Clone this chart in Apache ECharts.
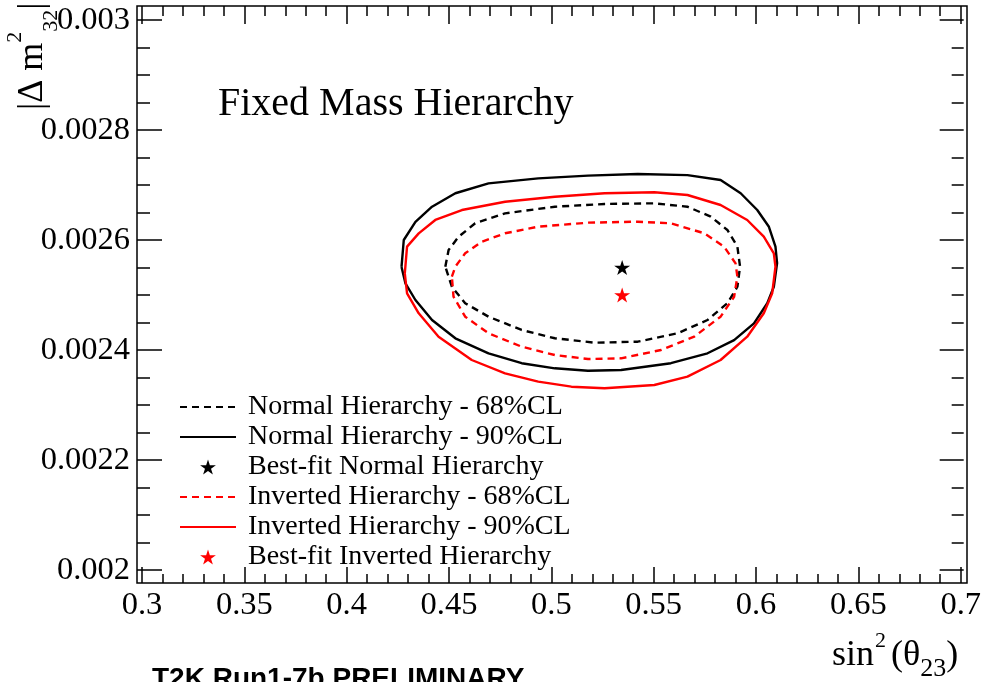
<!DOCTYPE html>
<html><head><meta charset="utf-8">
<script src="https://cdn.jsdelivr.net/npm/echarts@6/dist/echarts.min.js"></script>
<style>html,body{margin:0;padding:0;background:#fff}#c{width:984px;height:682px}</style>
</head><body><div id="c"></div>
<script>
// ---- data ----
const xRange = [0.3, 0.7];
const xInterval = 0.05;
const yRange = [0.002, 0.003];
const yInterval = 0.0002;

const seriesNames = [
  'Normal Hierarchy - 68%CL',
  'Normal Hierarchy - 90%CL',
  'Best-fit Normal Hierarchy',
  'Inverted Hierarchy - 68%CL',
  'Inverted Hierarchy - 90%CL',
  'Best-fit Inverted Hierarchy'
];

const nh68X = [0.4482,0.4498,0.4547,0.4628,0.4774,0.5017,0.526,0.5503,0.5665,0.5779,0.586,0.5909,0.5922,0.5909,0.586,0.5763,0.5617,0.5422,0.5212,0.5017,0.4855,0.4693,0.4579,0.4514,0.4482];
const nh68Y = [0.0025515,0.0025818,0.002606,0.0026304,0.0026485,0.0026605,0.0026655,0.0026667,0.0026605,0.0026424,0.0026182,0.002588,0.0025515,0.002515,0.002485,0.0024545,0.0024304,0.0024151,0.0024133,0.0024213,0.0024364,0.0024606,0.002485,0.002515,0.0025515];

const nh90X = [0.4268,0.4279,0.4336,0.4417,0.4531,0.4693,0.4936,0.5179,0.5422,0.5665,0.5827,0.5925,0.6006,0.6063,0.6095,0.6103,0.6087,0.6055,0.5990,0.5893,0.5763,0.5584,0.5341,0.5179,0.5017,0.4855,0.4693,0.4531,0.4417,0.4336,0.4287,0.4268];
const nh90Y = [0.002551,0.0026,0.002633,0.0026605,0.002685,0.002703,0.002712,0.002717,0.00272,0.002718,0.002709,0.002685,0.0026545,0.002624,0.002588,0.002558,0.002515,0.002485,0.0024485,0.002418,0.002394,0.002376,0.0023636,0.0023624,0.0023667,0.002376,0.002394,0.0024213,0.0024545,0.0024909,0.0025213,0.002551];

const ih68X = [0.4514,0.4531,0.4579,0.466,0.4774,0.4936,0.5179,0.5422,0.5584,0.5747,0.5844,0.59,0.5909,0.5893,0.5827,0.5698,0.5536,0.5341,0.5179,0.5017,0.4855,0.4693,0.4579,0.4522,0.4514];
const ih68Y = [0.0025333,0.0025515,0.0025758,0.0025969,0.0026122,0.0026242,0.0026315,0.0026333,0.0026304,0.0026122,0.002588,0.0025576,0.0025333,0.0024969,0.0024606,0.0024242,0.0024,0.0023849,0.0023836,0.0023909,0.002406,0.0024304,0.0024606,0.0024969,0.0025333];

const ih90X = [0.4284,0.4295,0.4352,0.4433,0.4563,0.4774,0.5017,0.526,0.5503,0.5665,0.5827,0.5957,0.6038,0.6087,0.6095,0.6079,0.6038,0.5957,0.5827,0.5665,0.5503,0.526,0.5098,0.4936,0.4774,0.4611,0.4449,0.4352,0.4295,0.4284];
const ih90Y = [0.0025395,0.002588,0.002612,0.0026364,0.0026545,0.0026696,0.0026787,0.002685,0.0026867,0.0026818,0.0026636,0.0026364,0.002606,0.0025758,0.0025515,0.0025031,0.0024667,0.0024242,0.0023818,0.0023515,0.0023364,0.0023304,0.0023333,0.0023424,0.0023576,0.0023818,0.0024242,0.0024667,0.0025031,0.0025395];

const bestNH = [0.5346, 0.00255];
const bestIH = [0.5346, 0.0025];

// ---- build ----
const zip = (xs, ys) => xs.map((x, i) => [x, ys[i]]);
const BLACK = '#000000', RED = '#ff0000';
const SERIF = '"Liberation Serif", "Times New Roman", serif';
const STAR = 'path://M50,0 L61.2,34.5 L97.6,34.5 L68.2,55.9 L79.4,90.5 L50,69.1 L20.6,90.5 L31.8,55.9 L2.4,34.5 L38.8,34.5 Z';
const DASH = [7, 5];

function contour(name, xs, ys, color, dashed) {
  return {
    name, type: 'line', data: zip(xs, ys), symbol: 'none', smooth: false,
    xAxisIndex: 0, yAxisIndex: 0,
    itemStyle: { color },
    lineStyle: { color, width: 2.4, type: dashed ? DASH : 'solid' },
    z: 3
  };
}
function best(name, pt, color) {
  return {
    name, type: 'scatter', data: [pt], symbol: STAR, symbolSize: 16,
    symbolKeepAspect: true, xAxisIndex: 0, yAxisIndex: 0,
    itemStyle: { color, opacity: 1 }, z: 4
  };
}

const tickStyle = { color: '#000', width: 1.5 };
function xAx(pos, offset, len, mlen, labels) {
  return {
    type: 'value', position: pos, offset, min: xRange[0], max: xRange[1], interval: xInterval,
    axisLine: { show: false },
    axisTick: { show: true, inside: true, length: len, lineStyle: tickStyle },
    minorTick: { show: true, splitNumber: 5, length: mlen, lineStyle: tickStyle },
    splitLine: { show: false }, minorSplitLine: { show: false },
    axisLabel: { show: labels, color: '#000', fontFamily: SERIF, fontSize: 32.5, margin: 6 }
  };
}
function yAx(pos, offset, len, mlen, labels) {
  return {
    type: 'value', position: pos, offset, min: yRange[0], max: yRange[1], interval: yInterval,
    axisLine: { show: false },
    axisTick: { show: true, inside: true, length: len, lineStyle: tickStyle },
    minorTick: { show: true, splitNumber: 4, length: mlen, lineStyle: tickStyle },
    splitLine: { show: false }, minorSplitLine: { show: false },
    axisLabel: { show: labels, color: '#000', fontFamily: SERIF, fontSize: 32.5, margin: 7 }
  };
}

const series = [
  contour(seriesNames[0], nh68X, nh68Y, BLACK, true),
  contour(seriesNames[1], nh90X, nh90Y, BLACK, false),
  best(seriesNames[2], bestNH, BLACK),
  contour(seriesNames[3], ih68X, ih68Y, RED, true),
  contour(seriesNames[4], ih90X, ih90Y, RED, false),
  best(seriesNames[5], bestIH, RED)
];

const legendData = seriesNames.map((n, i) => (i === 2 || i === 5)
  ? { name: n, itemStyle: { opacity: 1 } }
  : { name: n, itemStyle: { opacity: 0 } });

const supRich = {
  b: { fontFamily: SERIF, fontSize: 36, lineHeight: 52, fill: '#000' },
  sup: { fontFamily: SERIF, fontSize: 22, lineHeight: 20, verticalAlign: 'top', fill: '#000', padding: [0, 5, 0, 1] },
  sub: { fontFamily: SERIF, fontSize: 26, lineHeight: 26, verticalAlign: 'bottom', fill: '#000' }
};
const yRich = {
  b: { fontFamily: SERIF, fontSize: 36, lineHeight: 58, fill: '#000' },
  sup: { fontFamily: SERIF, fontSize: 22, lineHeight: 22, verticalAlign: 'top', fill: '#000' },
  sub: { fontFamily: SERIF, fontSize: 22, lineHeight: 22, verticalAlign: 'bottom', fill: '#000' }
};

const chart = echarts.init(document.getElementById('c'), null, { renderer: 'canvas' });
chart.setOption({
  animation: false,
  backgroundColor: '#fff',
  grid: { left: 142, right: 20, top: 20, bottom: 112, containLabel: false },
  xAxis: [xAx('bottom', 13, 16, 9, true), xAx('top', 14, 18, 10, false)],
  yAxis: [yAx('left', 5, 25, 13, true), yAx('right', 3, 24, 12, false)],
  legend: {
    orient: 'vertical', left: 179, top: 393, padding: 0,
    itemWidth: 56, itemHeight: 15, itemGap: 2,
    selectedMode: false,
    symbolKeepAspect: true,
    textStyle: { fontFamily: SERIF, fontSize: 28, color: '#000', lineHeight: 15, padding: [0, 0, 0, 7] },
    data: legendData
  },
  graphic: [
    { type: 'rect', silent: true, z: 100, shape: { x: 137, y: 6, width: 830, height: 577 },
      style: { fill: 'none', stroke: '#000', lineWidth: 1.5 } },
    { type: 'text', silent: true, x: 218, y: 104,
      style: { text: 'Fixed Mass Hierarchy', font: '40px ' + SERIF, fill: '#000', align: 'left', verticalAlign: 'middle' } },
    { type: 'text', silent: true, x: 832, y: 656,
      style: { text: '{b|sin}{sup|2}{b|(θ}{sub|23}{b|)}', rich: supRich, align: 'left', verticalAlign: 'middle' } },
    { type: 'text', silent: true, x: 33, y: 110, rotation: Math.PI / 2,
      style: { text: '{b||Δ m}{sup|2}{sub|32}{b||}', rich: yRich, align: 'left', verticalAlign: 'middle' } },
    { type: 'text', silent: true, x: 152, y: 679,
      style: { text: 'T2K Run1-7b PRELIMINARY', font: 'bold 28px "Liberation Sans", Arial, sans-serif', fill: '#000', align: 'left', verticalAlign: 'middle' } }
  ],
  series
});
</script></body></html>
